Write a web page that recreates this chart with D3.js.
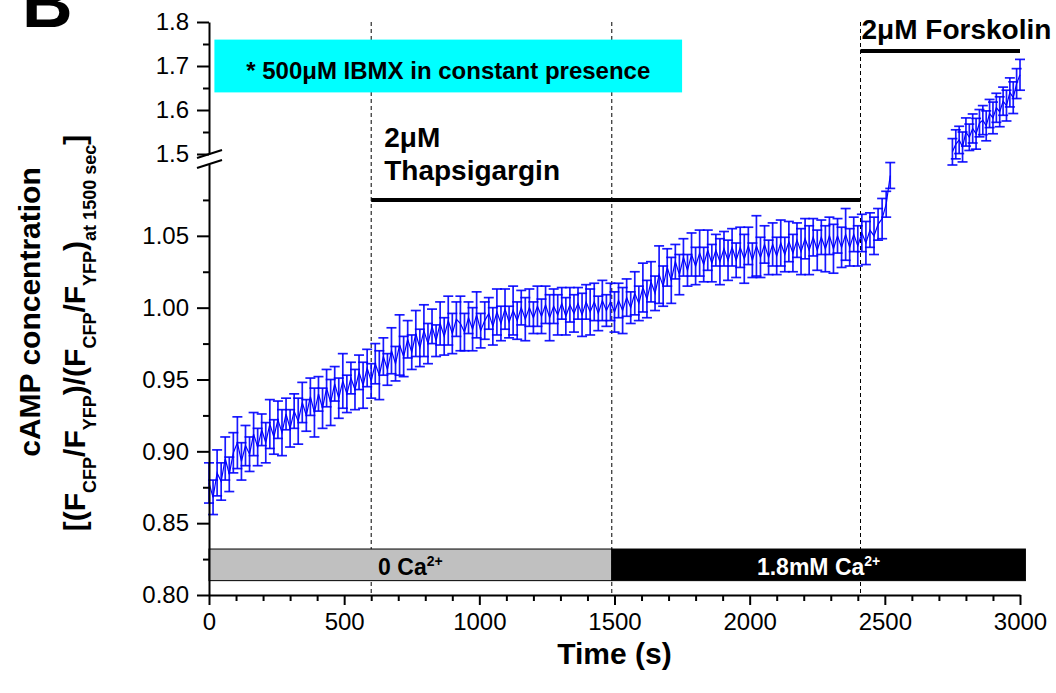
<!DOCTYPE html>
<html>
<head>
<meta charset="utf-8">
<script src="https://cdn.jsdelivr.net/npm/d3@7"></script>
<style>
  body { margin: 0; background: #fff; }
  text { font-family: "Liberation Sans", Arial, Helvetica, sans-serif; fill: #000; }
</style>
</head>
<body>
<svg id="chart" width="1056" height="693"></svg>
<script>
// ---- Data -------------------------------------------------------------
// Basal recording, sampled every 15 s (0 .. 2520 s)
const basalTimes = d3.range(0, 2521, 15);
const basalMeans = [
  0.878, 0.868, 0.885, 0.879, 0.895, 0.884, 0.899, 0.906, 0.893, 0.904,
  0.898, 0.912, 0.903, 0.915, 0.906, 0.919, 0.910, 0.922, 0.913, 0.926,
  0.916, 0.928, 0.921, 0.934, 0.925, 0.938, 0.927, 0.940, 0.930, 0.944,
  0.934, 0.947, 0.937, 0.949, 0.940, 0.951, 0.943, 0.955, 0.946, 0.958,
  0.949, 0.961, 0.953, 0.966, 0.957, 0.970, 0.961, 0.974, 0.966, 0.978,
  0.969, 0.982, 0.972, 0.984, 0.975, 0.987, 0.977, 0.989, 0.980, 0.991,
  0.982, 0.992, 0.989, 0.983, 0.993, 0.985, 0.995, 0.984, 0.991, 0.996,
  0.987, 0.997, 0.989, 0.999, 0.990, 0.998, 0.991, 1.000, 0.992, 1.000,
  0.993, 1.001, 0.994, 1.002, 0.993, 1.001, 0.995, 1.003, 0.994, 1.002,
  0.996, 1.003, 0.995, 1.004, 0.997, 1.004, 0.996, 1.005, 0.998, 1.004,
  0.997, 1.005, 0.998, 1.007, 1.000, 1.010, 1.003, 1.014, 1.006, 1.018,
  1.010, 1.023, 1.015, 1.028, 1.019, 1.032, 1.023, 1.035, 1.026, 1.037,
  1.029, 1.038, 1.030, 1.040, 1.031, 1.040, 1.032, 1.041, 1.033, 1.042,
  1.033, 1.042, 1.034, 1.043, 1.033, 1.043, 1.035, 1.044, 1.035, 1.044,
  1.036, 1.045, 1.037, 1.046, 1.038, 1.047, 1.039, 1.048, 1.040, 1.049,
  1.040, 1.049, 1.041, 1.050, 1.041, 1.050, 1.042, 1.051, 1.042, 1.051,
  1.043, 1.052, 1.045, 1.054, 1.050, 1.058, 1.062, 1.072, 1.092
];
const basalErrors = [
  0.014, 0.012, 0.016, 0.013, 0.015, 0.012, 0.014, 0.018, 0.013, 0.014,
  0.012, 0.015, 0.013, 0.011, 0.014, 0.017, 0.012, 0.013, 0.016, 0.011,
  0.013, 0.012, 0.016, 0.014, 0.011, 0.013, 0.017, 0.012, 0.014, 0.013,
  0.016, 0.012, 0.014, 0.019, 0.013, 0.011, 0.014, 0.012, 0.016, 0.013,
  0.012, 0.014, 0.017, 0.013, 0.011, 0.016, 0.012, 0.021, 0.014, 0.013,
  0.012, 0.016, 0.013, 0.018, 0.014, 0.012, 0.011, 0.015, 0.013, 0.017,
  0.014, 0.012, 0.019, 0.013, 0.011, 0.015, 0.016, 0.012, 0.013, 0.011,
  0.013, 0.016, 0.012, 0.014, 0.011, 0.017, 0.013, 0.012, 0.015, 0.013,
  0.011, 0.014, 0.012, 0.013, 0.016, 0.012, 0.014, 0.011, 0.013, 0.012,
  0.013, 0.011, 0.015, 0.012, 0.016, 0.013, 0.012, 0.014, 0.011, 0.013,
  0.014, 0.012, 0.016, 0.013, 0.011, 0.015, 0.012, 0.017, 0.013, 0.014,
  0.012, 0.020, 0.014, 0.013, 0.016, 0.012, 0.014, 0.013, 0.011, 0.015,
  0.013, 0.016, 0.012, 0.014, 0.013, 0.011, 0.016, 0.012, 0.014, 0.013,
  0.012, 0.014, 0.017, 0.013, 0.012, 0.021, 0.014, 0.013, 0.012, 0.015,
  0.013, 0.016, 0.012, 0.014, 0.013, 0.012, 0.016, 0.014, 0.017, 0.013,
  0.014, 0.012, 0.016, 0.013, 0.017, 0.012, 0.014, 0.018, 0.013, 0.012,
  0.014, 0.013, 0.015, 0.012, 0.013, 0.011, 0.014, 0.009, 0.009
];

// Forskolin response, sampled every 12.5 s (2750 .. 3000 s)
const forskolinTimes = d3.range(2750, 3000.1, 12.5);
const forskolinMeans = [
  1.505, 1.522, 1.532, 1.516, 1.550, 1.538, 1.558, 1.546, 1.570, 1.577,
  1.564, 1.592, 1.582, 1.605, 1.596, 1.620, 1.610, 1.640, 1.628, 1.660,
  1.680
];
const forskolinErrors = [
  0.030, 0.033, 0.031, 0.034, 0.032, 0.030, 0.033, 0.035, 0.031, 0.033,
  0.034, 0.032, 0.036, 0.033, 0.034, 0.032, 0.035, 0.033, 0.036, 0.034,
  0.035
];

// Axis ticks
const xMajorTicks = [0, 500, 1000, 1500, 2000, 2500, 3000];
const xMinorTicks = [100, 200, 300, 400, 600, 700, 800, 900, 1100, 1200, 1300, 1400,
  1600, 1700, 1800, 1900, 2100, 2200, 2300, 2400, 2600, 2700, 2800, 2900];
const yLowMajorTicks = [0.80, 0.85, 0.90, 0.95, 1.00, 1.05];
const yLowMinorTicks = [0.825, 0.875, 0.925, 0.975, 1.025, 1.075];
const yHighMajorTicks = [1.5, 1.6, 1.7, 1.8];
const yHighMinorTicks = [1.55, 1.65, 1.75];

// Experimental protocol
const markerTimes = [600, 1490, 2410];
const thapsigarginSpan = [600, 2410];
const forskolinSpan = [2410, 3000];
const ibmxSpan = [20, 1750];
const calciumPhases = [
  { start: 0, end: 1490, label: "0 Ca", fill: "#c0c0c0", text: "#000" },
  { start: 1490, end: 3020, label: "1.8mM Ca", fill: "#000", text: "#fff" }
];

// ---- Layout -----------------------------------------------------------
const svg = d3.select("#chart");
const x = d3.scaleLinear().domain([0, 3000]).range([209, 1020]);
const yLow = d3.scaleLinear().domain([0.8, 1.1]).range([595, 164]);
const yHigh = d3.scaleLinear().domain([1.5, 1.8]).range([154, 22]);
const axisX = x(0);
const blue = "#0000ff";

// Panel letter
svg.append("text").attr("x", 22).attr("y", 27)
  .attr("font-size", 70).attr("font-weight", "bold").text("B");

// Dashed event markers
svg.append("g").selectAll("line").data(markerTimes).join("line")
  .attr("x1", d => x(d)).attr("x2", d => x(d))
  .attr("y1", yHigh(1.8)).attr("y2", yLow(0.8))
  .attr("stroke", "#000").attr("stroke-width", 1)
  .attr("stroke-dasharray", "4,3");

// IBMX box
svg.append("rect")
  .attr("x", x(ibmxSpan[0])).attr("width", x(ibmxSpan[1]) - x(ibmxSpan[0]))
  .attr("y", yHigh(1.76)).attr("height", yHigh(1.64) - yHigh(1.76))
  .attr("fill", "#00ffff");
svg.append("text")
  .attr("x", (x(ibmxSpan[0]) + x(ibmxSpan[1])) / 2).attr("y", 79)
  .attr("text-anchor", "middle").attr("font-size", 24).attr("font-weight", "bold")
  .text("* 500\u03bcM IBMX in constant presence");

// Thapsigargin application
svg.append("line")
  .attr("x1", x(thapsigarginSpan[0])).attr("x2", x(thapsigarginSpan[1]))
  .attr("y1", yLow(1.075)).attr("y2", yLow(1.075))
  .attr("stroke", "#000").attr("stroke-width", 4);
const thap = svg.append("text").attr("font-size", 28).attr("font-weight", "bold");
thap.append("tspan").attr("x", x(thapsigarginSpan[0]) + 13).attr("y", 147).text("2\u03bcM");
thap.append("tspan").attr("x", x(thapsigarginSpan[0]) + 13).attr("y", 180).text("Thapsigargin");

// Forskolin application
svg.append("line")
  .attr("x1", x(forskolinSpan[0])).attr("x2", x(forskolinSpan[1]))
  .attr("y1", yHigh(1.734)).attr("y2", yHigh(1.734))
  .attr("stroke", "#000").attr("stroke-width", 4);
svg.append("text").attr("x", x(forskolinSpan[0]) + 1).attr("y", 39)
  .attr("font-size", 28).attr("font-weight", "bold").text("2\u03bcM Forskolin");

// Extracellular calcium phases
calciumPhases.forEach(p => {
  svg.append("rect")
    .attr("x", x(p.start)).attr("width", x(p.end) - x(p.start))
    .attr("y", yLow(0.832)).attr("height", yLow(0.81) - yLow(0.832))
    .attr("fill", p.fill).attr("stroke", "#000").attr("stroke-width", 1);
  const t = svg.append("text")
    .attr("x", (x(p.start) + x(p.end)) / 2).attr("y", 575)
    .attr("text-anchor", "middle").attr("font-size", 23).attr("font-weight", "bold")
    .style("fill", p.text);
  t.append("tspan").text(p.label);
  t.append("tspan").attr("font-size", 14).attr("dy", -9).text("2+");
});

// ---- Series -----------------------------------------------------------
function drawSeries(times, means, errors, y) {
  const pts = times.map((t, i) => ({ t, m: means[i], e: errors[i] }));
  const g = svg.append("g");
  const bars = g.selectAll("g.eb").data(pts).join("g").attr("class", "eb")
    .attr("stroke", blue).attr("stroke-width", 1.7).attr("stroke-opacity", 0.9);
  bars.append("line")
    .attr("x1", d => x(d.t)).attr("x2", d => x(d.t))
    .attr("y1", d => y(d.m - d.e)).attr("y2", d => y(d.m + d.e));
  bars.append("line")
    .attr("x1", d => x(d.t) - 5).attr("x2", d => x(d.t) + 5)
    .attr("y1", d => y(d.m + d.e)).attr("y2", d => y(d.m + d.e));
  bars.append("line")
    .attr("x1", d => x(d.t) - 5).attr("x2", d => x(d.t) + 5)
    .attr("y1", d => y(d.m - d.e)).attr("y2", d => y(d.m - d.e));
  g.append("path").datum(pts)
    .attr("fill", "none").attr("stroke", blue).attr("stroke-width", 1.2)
    .attr("d", d3.line().x(d => x(d.t)).y(d => y(d.m)));
}
drawSeries(basalTimes, basalMeans, basalErrors, yLow);
drawSeries(forskolinTimes, forskolinMeans, forskolinErrors, yHigh);

// ---- Axes -------------------------------------------------------------
function styleAxis(g) {
  g.selectAll("path, line").attr("stroke", "#000").attr("stroke-width", 2);
  g.selectAll("text").attr("font-size", 24).style("fill", "#000")
    .attr("font-family", "Liberation Sans, Arial, sans-serif");
}

const gx = svg.append("g").attr("transform", `translate(0,${yLow(0.8)})`)
  .call(d3.axisBottom(x).tickValues(xMajorTicks).tickFormat(d3.format("d"))
    .tickSize(10).tickPadding(8).tickSizeOuter(0));
styleAxis(gx);
const gxm = svg.append("g").attr("transform", `translate(0,${yLow(0.8)})`)
  .call(d3.axisBottom(x).tickValues(xMinorTicks).tickFormat("").tickSize(6).tickSizeOuter(0));
gxm.select(".domain").remove();
styleAxis(gxm);

function yAxis(scale, major, minor, fmt) {
  const g = svg.append("g").attr("transform", `translate(${axisX},0)`)
    .call(d3.axisLeft(scale).tickValues(major).tickFormat(d3.format(fmt))
      .tickSize(12).tickPadding(8).tickSizeOuter(0));
  styleAxis(g);
  const gm = svg.append("g").attr("transform", `translate(${axisX},0)`)
    .call(d3.axisLeft(scale).tickValues(minor).tickFormat("").tickSize(6).tickSizeOuter(0));
  gm.select(".domain").remove();
  styleAxis(gm);
}
yAxis(yLow, yLowMajorTicks, yLowMinorTicks, ".2f");
yAxis(yHigh, yHighMajorTicks, yHighMinorTicks, ".1f");

// Axis break marks
[yHigh(1.5), yLow(1.1)].forEach(cy => {
  svg.append("line")
    .attr("x1", axisX - 12).attr("y1", cy + 4)
    .attr("x2", axisX + 13).attr("y2", cy - 4)
    .attr("stroke", "#000").attr("stroke-width", 2);
});

// Axis titles
svg.append("text").attr("x", (x(0) + x(3000)) / 2).attr("y", 664)
  .attr("text-anchor", "middle").attr("font-size", 30).attr("font-weight", "bold")
  .text("Time (s)");

svg.append("text").attr("transform", "translate(40,312) rotate(-90)")
  .attr("text-anchor", "middle").attr("font-size", 30).attr("font-weight", "bold")
  .text("cAMP concentration");

const yt = svg.append("text").attr("transform", "translate(85,333) rotate(-90)")
  .attr("text-anchor", "middle").attr("font-size", 30).attr("font-weight", "bold");
const parts = [
  ["[(F", 0], ["CFP", 1], ["/F", 0], ["YFP", 1], [")/(F", 0], ["CFP", 1],
  ["/F", 0], ["YFP", 1], [")", 0], ["at 1500 sec", 1], ["]", 0]
];
let shifted = false;
parts.forEach(([s, sub]) => {
  const ts = yt.append("tspan").text(s);
  if (sub && !shifted) { ts.attr("dy", 11).attr("font-size", 18); shifted = true; }
  else if (sub) { ts.attr("font-size", 18); }
  else if (shifted) { ts.attr("dy", -11); shifted = false; }
});
</script>
</body>
</html>
